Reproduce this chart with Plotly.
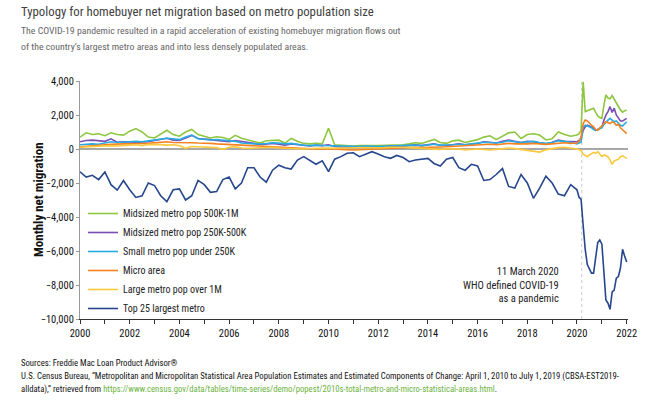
import pandas as pd
import plotly.graph_objects as go

# ---- dates: quarterly 2000-2019, monthly 2020 - Jan 2022 ----
dates = list(pd.date_range("2000-01-01", "2019-10-01", freq="QS")) + \
        list(pd.date_range("2020-01-01", "2022-01-01", freq="MS"))

top25 = [
    -1340, -1650, -1550, -1800,
    -1350, -2100, -2420, -1850,
    -2400, -2850, -2750, -2000,
    -2150, -2750, -3100, -2400,
    -2350, -3000, -2750, -1850,
    -2100, -2550, -2500, -1800,
    -1650, -2350, -2000, -1100,
    -1100, -1650, -1950, -1250,
    -950, -1100, -1180, -650,
    -450, -700, -900, -700,
    -1330, -600, -450, -250,
    -220, -450, -300, -160,
    -300, -450, -550, -380,
    -500, -750, -650, -600,
    -550, -850, -1000, -600,
    -500, -1100, -1250, -900,
    -1000, -1850, -1800, -1500,
    -1150, -2200, -2300, -1500,
    -2000, -2900, -2300, -1600,
    -2000, -2650, -2750, -2100,
    # monthly 2020-01 .. 2022-01
    -2400, -2850, -2950, -4500, -5900, -6800, -7100, -7300, -7300, -6300, -5500, -5350,
    -5600, -7300, -8880, -9070, -9430, -8400, -8300, -7600, -7500, -7000, -5900, -6300,
    -6650,
]

mid500 = [
    700, 950, 850, 900,
    780, 950, 850, 820,
    1050, 1200, 1000, 700,
    650, 900, 1100, 850,
    750, 1000, 1150, 850,
    750, 650, 720, 680,
    560, 800, 630, 550,
    450, 350, 490, 520,
    520, 350, 620, 450,
    330, 300, 330, 300,
    1220, 250, 220, 180,
    170, 200, 220, 200,
    200, 210, 230, 220,
    250, 300, 370, 330,
    450, 560, 380, 330,
    480, 520, 380, 450,
    550, 700, 780, 550,
    730, 950, 1000, 620,
    850, 900, 820, 530,
    600, 1000, 850, 750,
    820, 900, 1100, 3960, 2200, 2250, 2300, 2350, 2400, 2150, 1950, 1850,
    1800, 2600, 3180, 3000, 2950, 3140, 2900, 2700, 2500, 2300, 2160, 2250,
    2280,
]

mid250 = [
    430, 500, 520, 480,
    450, 600, 400, 420,
    430, 380, 400, 430,
    500, 550, 630, 520,
    500, 650, 800, 620,
    600, 550, 500, 450,
    430, 500, 450, 380,
    330, 250, 300, 330,
    280, 230, 300, 250,
    200, 180, 220, 200,
    250, 150, 120, 100,
    100, 130, 150, 120,
    120, 150, 180, 150,
    170, 200, 250, 200,
    250, 300, 220, 200,
    250, 300, 250, 280,
    320, 430, 400, 350,
    450, 530, 450, 380,
    450, 430, 350, 300,
    400, 530, 450, 430,
    430, 500, 630, 1100, 1300, 1400, 1350, 1300, 1200, 1100, 1150, 1220,
    1300, 1700, 2000, 2200, 2490, 2150, 2400, 2000, 1800, 1650, 1650, 1750,
    1800,
]

small = [
    250, 280, 300, 280,
    350, 430, 380, 420,
    430, 450, 420, 480,
    530, 580, 630, 600,
    550, 700, 820, 600,
    550, 530, 560, 520,
    450, 450, 350, 330,
    300, 290, 320, 370,
    350, 300, 330, 260,
    220, 200, 230, 210,
    200, 180, 150, 130,
    130, 150, 170, 150,
    150, 160, 180, 170,
    180, 200, 230, 200,
    230, 280, 230, 220,
    250, 280, 250, 300,
    330, 400, 380, 350,
    400, 480, 430, 380,
    420, 450, 380, 330,
    380, 480, 450, 400,
    300, 350, 400, 1300, 1400, 1350, 1300, 1250, 1150, 1100, 1150, 1200,
    1250, 1450, 1600, 1700, 1800, 1700, 1600, 1650, 1500, 1400, 1350, 1450,
    1600,
]

micro = [
    130, 150, 170, 200,
    250, 280, 270, 300,
    300, 330, 320, 330,
    350, 400, 430, 380,
    380, 400, 370, 350,
    350, 330, 300, 280,
    270, 260, 240, 220,
    180, 150, 140, 130,
    120, 80, 60, 40,
    20, -20, 0, 20,
    30, 0, -30, -50,
    -60, -40, -20, 0,
    0, 20, 40, 50,
    60, 80, 100, 90,
    110, 140, 120, 130,
    150, 180, 170, 200,
    220, 260, 280, 250,
    280, 330, 300, 280,
    300, 320, 290, 270,
    300, 350, 370, 330,
    350, 450, 700, 1500, 1700, 1650, 1500, 1400, 1300, 1150, 1100, 1250,
    1350, 1500, 1600, 1550, 1500, 1600, 1550, 1400, 1450, 1250, 1150, 1050,
    900,
]

large = [
    100, 120, 150, 130,
    170, 200, 180, 220,
    230, 250, 200, 270,
    280, 260, 230, 250,
    200, 40, 150, 140,
    120, 100, 80, -20,
    100, 140, 60, 40,
    60, 100, 80, 100,
    60, 50, 30, 0,
    0, 30, 50, 80,
    60, 40, 50, 60,
    80, 100, 90, 70,
    60, 80, 100, 120,
    100, 80, 60, 40,
    30, 0, -20, 20,
    30, 0, -50, -30,
    0, -30, -60, -20,
    0, 50, 20, -30,
    -50, -100, -180, -50,
    30, 80, 100, 60,
    0, -50, -100, -300, -400, -450, -350, -250, -200, -250, -150, -300,
    -450, -350, -400, -450, -650, -900, -700, -650, -600, -450, -400, -480,
    -550,
]

series_names = [
    "Midsized metro pop 500K-1M",
    "Midsized metro pop 250K-500K",
    "Small metro pop under 250K",
    "Micro area",
    "Large metro pop over 1M",
    "Top 25 largest metro",
]
series_values = [mid500, mid250, small, micro, large, top25]
series_colors = ["#8DC63F", "#7A4FB5", "#29ABE2", "#F58220", "#FBC93D", "#26468E"]

y_ticks = [-10000, -8000, -6000, -4000, -2000, 0, 2000, 4000]
covid_date = "2020-03-11"

FONT = "Liberation Sans Narrow, Roboto Condensed, Arial Narrow, sans-serif"

W, H = 650, 411
L, R, T, B = 80, 22, 81, 92
PW, PH = W - L - R, H - T - B


def px2paper(px, py):
    return (px - L) / PW, (H - B - py) / PH


fig = go.Figure()
for name, vals, col in zip(series_names, series_values, series_colors):
    fig.add_trace(go.Scatter(x=dates, y=vals, mode="lines", name=name,
                             line=dict(color=col, width=1.6)))

fig.add_shape(type="line", x0=covid_date, x1=covid_date, y0=-10000, y1=4000,
              xref="x", yref="y", line=dict(color="#c8c8c8", width=1, dash="dot"),
              layer="below")

fig.add_annotation(x="2019-05-10", y=-8000, xref="x", yref="y",
                   text="11 March 2020<br>WHO defined COVID-19<br>as a pandemic",
                   showarrow=False, xanchor="right", yanchor="middle", align="right",
                   font=dict(size=10.5, color="#222", family=FONT))

lx, ly = px2paper(83, 199)
fig.update_layout(
    width=W, height=H,
    margin=dict(l=L, r=R, t=T, b=B),
    paper_bgcolor="white", plot_bgcolor="white",
    font=dict(family=FONT, color="#222", size=10),
    showlegend=True,
    legend=dict(x=lx, y=ly, xanchor="left", yanchor="top",
                font=dict(size=10, family=FONT, color="#222"),
                bgcolor="rgba(0,0,0,0)", tracegroupgap=0),
    xaxis=dict(type="date", range=["2000-01-01", "2022-01-20"],
               dtick="M24", tick0="2000-01-01", tickformat="%Y",
               ticks="outside", ticklen=4, tickcolor="#333",
               minor=dict(dtick="M12", ticks="outside", ticklen=4, tickcolor="#333"),
               showline=True, linecolor="#333", linewidth=1,
               showgrid=False, tickfont=dict(size=10.5, color="#111")),
    yaxis=dict(range=[-10000, 4000], tickvals=y_ticks, tickformat=",",
               ticks="outside", ticklen=3, tickcolor="#999",
               showline=True, linecolor="#999", linewidth=1,
               showgrid=False, zeroline=True, zerolinecolor="#a8a8a8", zerolinewidth=2,
               tickfont=dict(size=10.5, color="#111")),
)

# y-axis title placed close to the axis like the reference
ax_x, ax_y = px2paper(38, 200)
fig.add_annotation(x=ax_x, y=ax_y, xref="paper", yref="paper", textangle=-90,
                   xanchor="center", yanchor="middle", showarrow=False,
                   text="<b>Monthly net migration</b>",
                   font=dict(size=13, color="#111", family=FONT))

texts = [
    (19, 12, "Typology for homebuyer net migration based on metro population size", 12.8, "#3f3f3f"),
    (19, 30, "The COVID-19 pandemic resulted in a rapid acceleration of existing homebuyer migration flows out", 9.8, "#666"),
    (19, 46, "of the country’s largest metro areas and into less densely populated areas.", 9.8, "#666"),
    (19, 363, "Sources: Freddie Mac Loan Product Advisor®", 8.7, "#111"),
    (19, 376, "U.S. Census Bureau, “Metropolitan and Micropolitan Statistical Area Population Estimates and Estimated Components of Change: April 1, 2010 to July 1, 2019 (CBSA-EST2019-", 8.7, "#111"),
    (19, 389, "alldata),” retrieved from <span style='color:#6DB33F'>https://www.census.gov/data/tables/time-series/demo/popest/2010s-total-metro-and-micro-statistical-areas.html</span>.", 8.7, "#111"),
]
for px, py, t, sz, col in texts:
    xp, yp = px2paper(px, py)
    fig.add_annotation(x=xp, y=yp, xref="paper", yref="paper",
                       xanchor="left", yanchor="middle", showarrow=False, text=t,
                       font=dict(size=sz, color=col, family=FONT))

fig.write_html("out.html", config={"displayModeBar": False},
               post_script="document.body.style.margin='0';")
